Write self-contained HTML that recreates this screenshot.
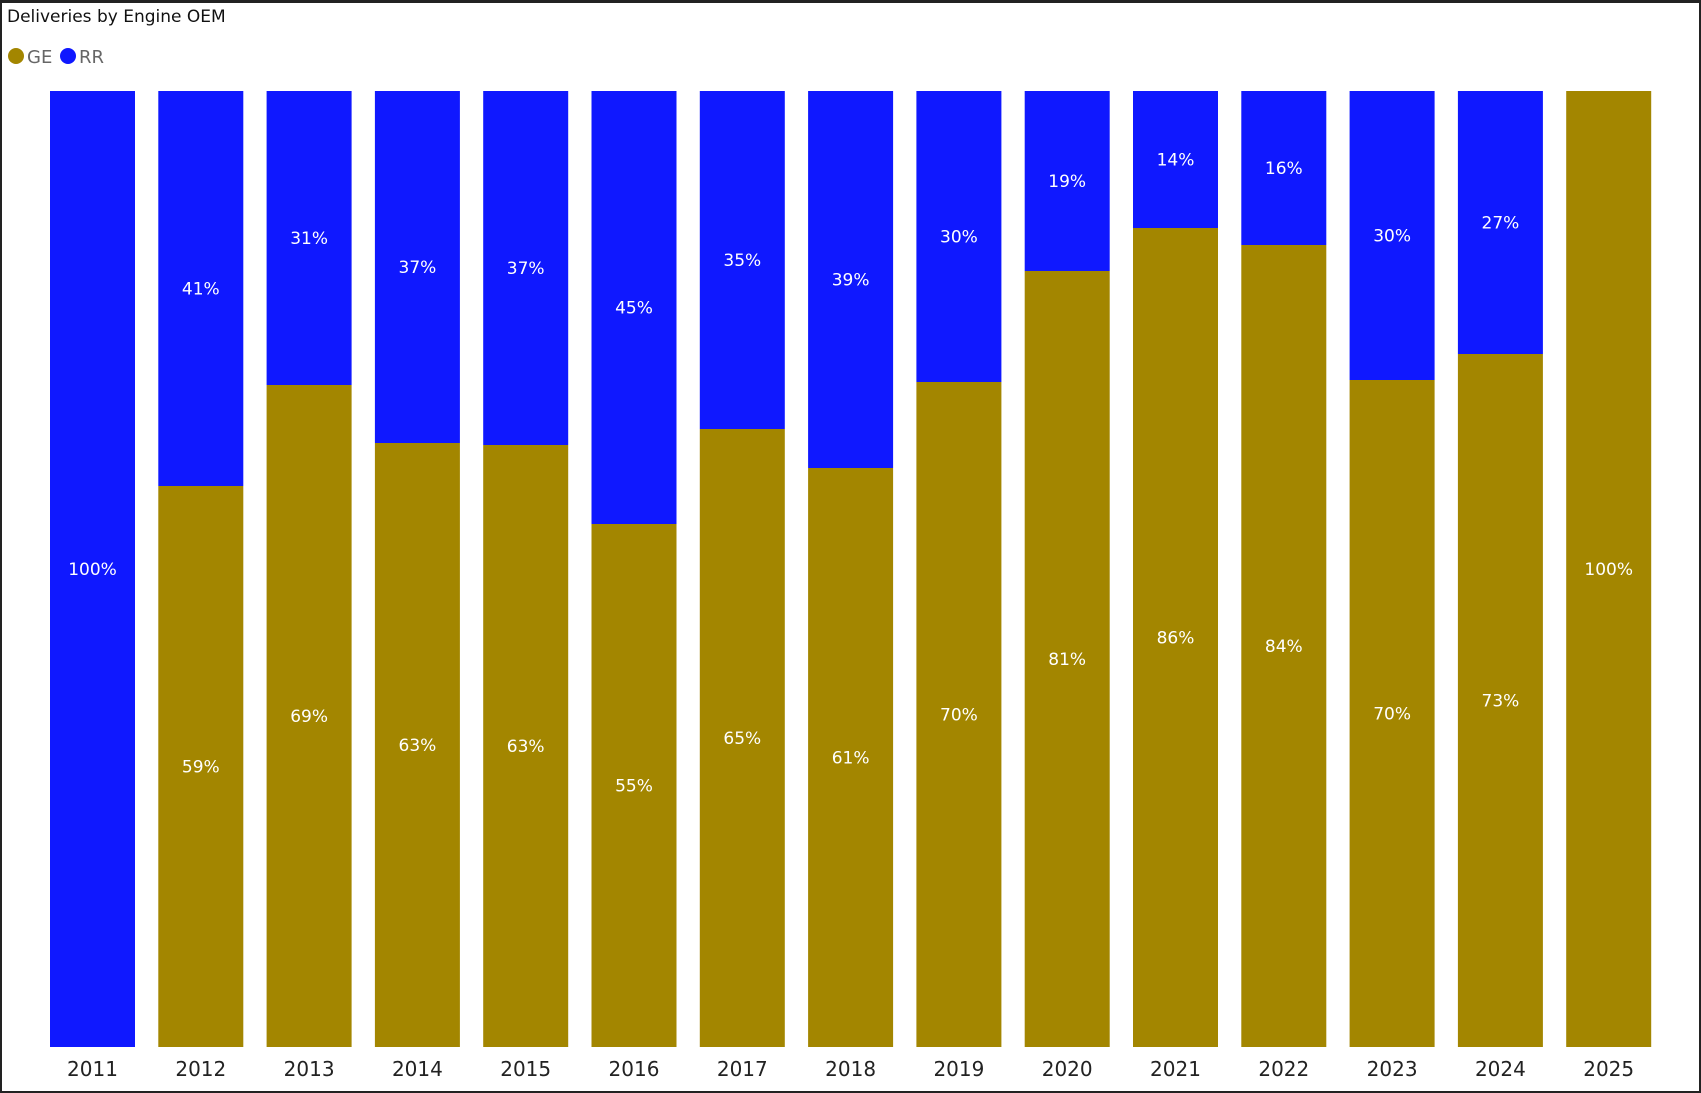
<!DOCTYPE html><html><head><style>
body{margin:0;width:1701px;height:1093px;background:#fff;font-family:"DejaVu Sans","Liberation Sans",sans-serif;overflow:hidden}
.f{position:absolute;left:0;top:0;width:1697px;height:1088px;border:2px solid #222;border-top-width:3px}
</style></head><body><div class="f"></div>
<svg width="1701" height="1093" style="position:absolute;left:0;top:0" font-family="DejaVu Sans, Liberation Sans, sans-serif">
<text x="7" y="22" font-size="17" fill="#111">Deliveries by Engine OEM</text>
<circle cx="16" cy="56" r="8" fill="#A38600"/><text x="27" y="63" font-size="18" fill="#666">GE</text>
<circle cx="68" cy="56" r="8" fill="#0F18FF"/><text x="79" y="63" font-size="18" fill="#666">RR</text>
<g id="bars"></g>
</svg>
<script>
var b=[1047,486,385,443,445,524,429,468,382,271,228,245,380,354,91];
var rr=["100%","41%","31%","37%","37%","45%","35%","39%","30%","19%","14%","16%","30%","27%",""];
var ge=["","59%","69%","63%","63%","55%","65%","61%","70%","81%","86%","84%","70%","73%","100%"];
var g=document.getElementById("bars"),h="";
for(var i=0;i<15;i++){var x=50+i*108.3,cx=x+42.5,y=b[i];
if(y>91)h+='<rect x="'+x+'" y="91" width="85" height="'+(y-91)+'" fill="#0F18FF"/>';
if(y<1047)h+='<rect x="'+x+'" y="'+y+'" width="85" height="'+(1047-y)+'" fill="#A38600"/>';
if(rr[i])h+='<text x="'+cx+'" y="'+((91+y)/2+6)+'" font-size="17" fill="#fff" text-anchor="middle">'+rr[i]+'</text>';
if(ge[i])h+='<text x="'+cx+'" y="'+((y+1047)/2+6)+'" font-size="17" fill="#fff" text-anchor="middle">'+ge[i]+'</text>';
h+='<text x="'+cx+'" y="1076" font-size="20" fill="#222" text-anchor="middle">'+(2011+i)+'</text>';}
g.innerHTML=h;
</script></body></html>
